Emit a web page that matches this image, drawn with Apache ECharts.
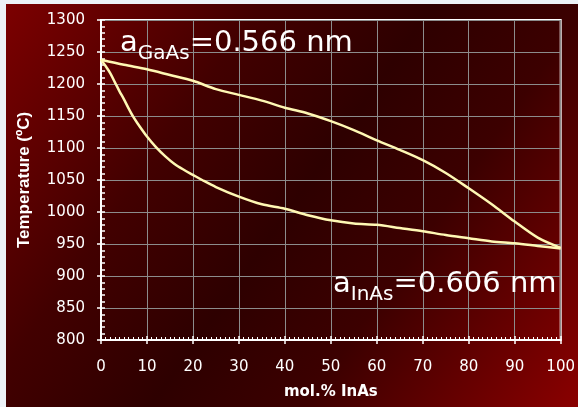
<!DOCTYPE html>
<html><head><meta charset="utf-8">
<script src="https://cdn.jsdelivr.net/npm/echarts@6/dist/echarts.min.js"></script>
<style>html,body{margin:0;padding:0;background:#edf2f7;}#c{width:578px;height:407px;}</style>
</head><body><div id="c"></div>
<script>
// Data
const upperX = [0,5,10,15,20,25,30,35,40,45,50,55,60,65,70,75,80,85,90,95,100];
const upperT = [1238,1230,1223,1214,1205,1192,1183,1174,1163,1154,1142,1128,1112,1097,1081,1061,1037,1012,985,960,944];
const lowerX = [0,1,2,3,4,5,6,7,8,10,12,14,16,18,20,22,25,30,35,40,45,50,55,60,65,70,75,80,85,90,95,100];
const lowerT = [1238,1228,1217,1203,1189,1176,1162,1149,1138,1118,1101,1087,1075,1066,1058,1050,1039,1024,1012,1005,995,987,982,980,975,970,964,959,954,951,947,943];
const xTicks = {min:0, max:100, interval:10};
const yTicks = {min:800, max:1300, interval:50};
const xName = 'mol.% InAs';
const yName = 'Temperature (ºC)';
const labelGaAs = ['a','GaAs','=0.566 nm'];
const labelInAs = ['a','InAs','=0.606 nm'];

const FONT = 'DejaVu Sans, sans-serif';
const toPairs = (xs, ys) => xs.map((x,i)=>[x, ys[i]]);
const chart = echarts.init(document.getElementById('c'), null, {renderer:'canvas'});
const white = '#ffffff';
const rich = {
  a:{fontSize:29, lineHeight:29, color:white, fontFamily:FONT, verticalAlign:'bottom', padding:[0,0,6,0]},
  s:{fontSize:20, lineHeight:20, color:white, fontFamily:FONT, verticalAlign:'bottom'}
};
const mk = (arr) => '{a|'+arr[0]+'}{s|'+arr[1]+'}{a|'+arr[2]+'}';
chart.setOption({
  animation:false,
  backgroundColor:'#edf2f7',
  graphic:[
    {type:'rect', z:-10, shape:{x:6,y:4,width:572,height:403}, style:{fill:new echarts.graphic.LinearGradient(0,0,1,1,[
      {offset:0,color:'#7c0000'},{offset:0.3,color:'#420000'},{offset:0.5,color:'#2e0000'},{offset:0.68,color:'#3c0000'},{offset:1,color:'#8a0000'}])}},
    {type:'text', z:10, left:120, top:29, style:{text:mk(labelGaAs), rich:rich, fill:white}},
    {type:'text', z:10, left:333, top:270, style:{text:mk(labelInAs), rich:rich, fill:white}}
  ],
  grid:{left:101, top:20, right:15, bottom:67, containLabel:false, show:true, borderColor:white, borderWidth:2, backgroundColor:'transparent'},
  xAxis:[
    {type:'value', min:xTicks.min, max:xTicks.max, interval:xTicks.interval, position:'bottom',
      name:xName, nameLocation:'middle', nameGap:45, nameTextStyle:{color:white, fontFamily:FONT, fontSize:15, fontWeight:'bold'},
      axisLine:{show:true, onZero:false, lineStyle:{color:white, width:2}},
      axisLabel:{show:true, color:white, fontFamily:FONT, fontSize:15, margin:20, formatter:(v)=>String(v)},
      axisTick:{show:true, inside:true, length:4, lineStyle:{color:white, width:1.5}},
      minorTick:{show:true, splitNumber:10, length:3, lineStyle:{color:white, width:1}},
      splitLine:{show:true, lineStyle:{color:'#8c8c8c', width:1}}},
    {type:'value', min:xTicks.min, max:xTicks.max, interval:xTicks.interval, position:'bottom',
      axisLine:{show:false}, axisLabel:{show:false}, splitLine:{show:false},
      axisTick:{show:true, inside:false, length:4, lineStyle:{color:white, width:1.5}}}
  ],
  yAxis:[
    {type:'value', min:yTicks.min, max:yTicks.max, interval:yTicks.interval, position:'left',
      name:yName, nameLocation:'middle', nameGap:68, nameTextStyle:{color:white, fontFamily:'Liberation Sans, Arial, sans-serif', fontSize:17, fontWeight:'bold'},
      axisLine:{show:true, onZero:false, lineStyle:{color:white, width:2}},
      axisLabel:{show:true, color:white, fontFamily:FONT, fontSize:15, margin:16, formatter:(v)=>String(v)},
      axisTick:{show:true, inside:true, length:4, lineStyle:{color:white, width:1.5}},
      minorTick:{show:true, splitNumber:5, length:4, lineStyle:{color:white, width:1.5}},
      splitLine:{show:true, lineStyle:{color:'#8c8c8c', width:1}}},
    {type:'value', min:yTicks.min, max:yTicks.max, interval:yTicks.interval, position:'left',
      axisLine:{show:false}, axisLabel:{show:false}, splitLine:{show:false},
      axisTick:{show:true, inside:false, length:4, lineStyle:{color:white, width:1.5}}}
  ],
  series:[
    {type:'line', xAxisIndex:0, yAxisIndex:0, data:toPairs(upperX, upperT), showSymbol:false, smooth:0.3,
      lineStyle:{color:'#fff8b4', width:2.5}, z:5},
    {type:'line', xAxisIndex:0, yAxisIndex:0, data:toPairs(lowerX, lowerT), showSymbol:false, smooth:0.3,
      lineStyle:{color:'#fff8b4', width:2.5}, z:5}
  ]
});
</script></body></html>
